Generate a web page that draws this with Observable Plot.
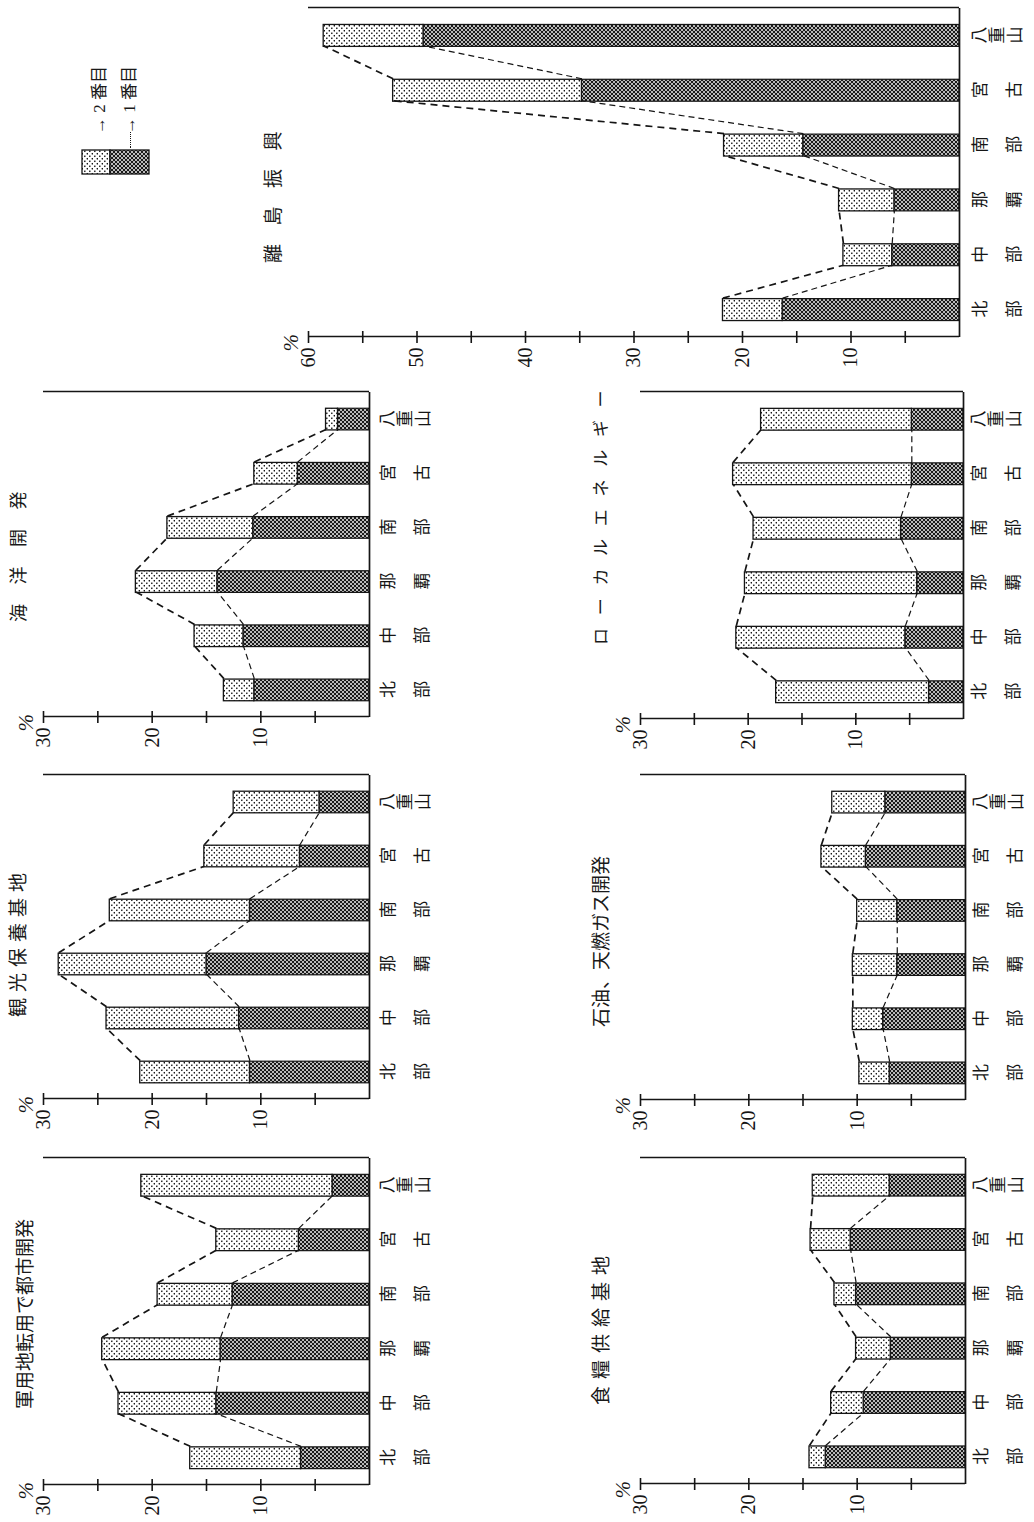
<!DOCTYPE html>
<html><head><meta charset="utf-8">
<script src="https://cdn.jsdelivr.net/npm/d3@7"></script>
<script src="https://cdn.jsdelivr.net/npm/@observablehq/plot@0.6"></script>
<style>
html,body{margin:0;padding:0;background:#fff;overflow:hidden;width:1034px;height:1522px;}
#page{position:absolute;left:0;top:0;width:1522px;height:1034px;transform-origin:0 0;transform:translateY(1522px) rotate(-90deg);font-family:"Noto Sans CJK JP",sans-serif;color:#1a1a1a;background:#fff;}
.title{position:absolute;white-space:nowrap;font-size:19px;line-height:24px;}
.leg{position:absolute;white-space:nowrap;font-size:17px;line-height:20px;font-family:"Liberation Serif","Noto Sans CJK JP",serif;}
</style></head><body>
<svg width="0" height="0" style="position:absolute">
<defs>
<pattern id="pat2" width="5" height="5" patternUnits="userSpaceOnUse"><rect width="5" height="5" fill="#fff"/><circle cx="1.25" cy="1.25" r="0.85" fill="#111"/><circle cx="3.75" cy="3.75" r="0.85" fill="#111"/></pattern>
<pattern id="pat1" width="4" height="4" patternUnits="userSpaceOnUse"><rect width="4" height="4" fill="#1a1a1a"/><circle cx="1" cy="1" r="0.95" fill="#fff"/><circle cx="3" cy="3" r="0.95" fill="#fff"/></pattern>
</defs></svg>
<div id="page"></div>
<script>
// ---- data ----
const categories = ["北部", "中部", "那覇", "南部", "宮古", "八重山"];
const categoryLabels = ["北\n部", "中\n部", "那\n覇", "南\n部", "宮\n古", "八\n重\n山"];
const titles = ["軍用地転用で都市開発", "観光保養基地", "海洋開発", "食糧供給基地", "石油、天燃ガス開発", "ローカルエネルギー", "離島振興"];
const ticks30 = [10, 20, 30];
const ticks60 = [10, 20, 30, 40, 50, 60];
const legendLabels = ["2 番目", "1 番目"];

// 1番目 (first choice) and 2番目 (second choice), percent
const gunyochiFirst  = [6.3, 14.1, 13.7, 12.6, 6.5, 3.4];
const gunyochiSecond = [10.2, 9.0, 10.9, 6.9, 7.6, 17.6];
const kankoFirst     = [11.0, 12.0, 15.0, 11.0, 6.4, 4.6];
const kankoSecond    = [10.1, 12.2, 13.6, 12.9, 8.8, 7.9];
const kaiyoFirst     = [10.6, 11.6, 14.0, 10.7, 6.6, 2.9];
const kaiyoSecond    = [2.8, 4.5, 7.5, 7.9, 4.0, 1.1];
const shokuryoFirst  = [12.9, 9.4, 6.9, 10.1, 10.6, 7.0];
const shokuryoSecond = [1.5, 3.0, 3.2, 2.0, 3.7, 7.1];
const sekiyuFirst    = [7.0, 7.6, 6.3, 6.3, 9.2, 7.4];
const sekiyuSecond   = [2.8, 2.8, 4.1, 3.7, 4.1, 4.9];
const localFirst     = [3.2, 5.4, 4.3, 5.8, 4.8, 4.8];
const localSecond    = [14.2, 15.7, 16.0, 13.7, 16.6, 14.0];
const ritouFirst     = [16.3, 6.2, 6.0, 14.4, 34.8, 49.4];
const ritouSecond    = [5.5, 4.5, 5.1, 7.3, 17.4, 9.2];

// ---- layout (in the unrotated page frame, 1522 x 1034) ----
const panels = [
  {first: gunyochiFirst, second: gunyochiSecond, max: 30, ticks: ticks30, left: 37, right: 364, top: 43, bottom: 369, labDy: 0,
   title: {x: 113, y: 24, size: 19, ls: 0}},
  {first: kankoFirst, second: kankoSecond, max: 30, ticks: ticks30, left: 423, right: 747, top: 43, bottom: 369, labDy: 0,
   title: {x: 505, y: 17, size: 19, ls: 6}},
  {first: kaiyoFirst, second: kaiyoSecond, max: 30, ticks: ticks30, left: 805, right: 1130, top: 43, bottom: 369, labDy: 0,
   title: {x: 900, y: 17, size: 18, ls: 19.5}},
  {first: shokuryoFirst, second: shokuryoSecond, max: 30, ticks: ticks30, left: 38, right: 364, top: 640, bottom: 965, labDy: -3,
   title: {x: 117, y: 600, size: 19, ls: 7}},
  {first: sekiyuFirst, second: sekiyuSecond, max: 30, ticks: ticks30, left: 422, right: 747, top: 640, bottom: 965, labDy: -3,
   title: {x: 495, y: 600, size: 19, ls: 0}},
  {first: localFirst, second: localSecond, max: 30, ticks: ticks30, left: 803, right: 1130, top: 640, bottom: 963, labDy: -3,
   title: {x: 877, y: 600, size: 17, ls: 12.7}},
  {first: ritouFirst, second: ritouSecond, max: 60, ticks: ticks60, left: 1185, right: 1514, top: 308, bottom: 959, labDy: 2,
   title: {x: 1259, y: 272, size: 19, ls: 18.5}}
];

const page = document.getElementById("page");
const ink = "#151515";
const serif = '"Liberation Serif","Noto Sans CJK JP",serif';
const jp = '"Noto Sans CJK JP",sans-serif';

panels.forEach((p, k) => {
  const ml = 50, mr = 12, mt = 35, mb = 75;
  const n = categories.length;
  const rows = categories.map((c, i) => ({
    i, c, label: categoryLabels[i], first: p.first[i], total: +(p.first[i] + p.second[i]).toFixed(1)
  }));
  const pairs = d3.pairs(rows).map(([a, b]) => ({i: a.i, j: b.i, fa: a.first, fb: b.first, ta: a.total, tb: b.total}));
  const hw = 0.2;
  const xmin = -0.5, xmax = n - 0.5;
  const minor = d3.range(5, p.max + 0.1, 5);
  const two = rows.filter(d => d.label.split("\n").length === 2);
  const three = rows.filter(d => d.label.split("\n").length === 3);
  const svg = Plot.plot({
    width: ml + mr + (p.right - p.left),
    height: mt + mb + (p.bottom - p.top),
    marginLeft: ml, marginRight: mr, marginTop: mt, marginBottom: mb,
    x: {type: "linear", domain: [xmin, xmax], axis: null},
    y: {domain: [0, p.max], axis: null},
    style: {fontFamily: serif, fontSize: "17px", color: ink, background: "transparent", maxWidth: "none", overflow: "visible"},
    marks: [
      Plot.rectY(rows, {x1: d => d.i - hw, x2: d => d.i + hw, y1: 0, y2: "first", fill: "url(#pat1)", stroke: ink, strokeWidth: 1.2}),
      Plot.rectY(rows, {x1: d => d.i - hw, x2: d => d.i + hw, y1: "first", y2: "total", fill: "url(#pat2)", stroke: ink, strokeWidth: 1.3}),
      Plot.link(pairs, {x1: d => d.i + hw, x2: d => d.j - hw, y1: "ta", y2: "tb", stroke: ink, strokeWidth: 1.7, strokeDasharray: "7,5"}),
      Plot.link(pairs, {x1: d => d.i + hw, x2: d => d.j - hw, y1: "fa", y2: "fb", stroke: ink, strokeWidth: 1.2, strokeDasharray: "6,4"}),
      Plot.ruleY([0], {stroke: ink, strokeWidth: 1.7}),
      Plot.ruleX([xmin, xmax], {y1: 0, y2: p.max, stroke: ink, strokeWidth: 1.6}),
      Plot.ruleY(minor, {x1: xmin, x2: xmin, insetLeft: -6, insetRight: -6, stroke: ink, strokeWidth: 1.6}),
      Plot.text(p.ticks, {y: d => d, text: d => String(d), frameAnchor: "left", textAnchor: "end", dx: -11, fill: ink, fontSize: 20}),
      Plot.text(["%"], {frameAnchor: "top-left", dx: -15, dy: -25, fill: ink, fontSize: 21, fontStyle: "italic"}),
      Plot.text(two, {x: "i", text: "label", frameAnchor: "bottom", lineAnchor: "top", dy: p.labDy, lineHeight: 2, fontSize: 17, fontFamily: jp, fill: ink}),
      Plot.text(three, {x: "i", text: "label", frameAnchor: "bottom", lineAnchor: "top", dy: p.labDy + 10, lineHeight: 1.08, fontSize: 17, fontFamily: jp, fill: ink})
    ]
  });
  svg.style.position = "absolute";
  svg.style.left = (p.left - ml) + "px";
  svg.style.top = (p.top - mt) + "px";
  page.appendChild(svg);
});

// titles
panels.forEach((p, k) => {
  const t = document.createElement("div");
  t.className = "title";
  t.textContent = titles[k];
  t.style.left = p.title.x + "px";
  t.style.top = (p.title.y - 12) + "px";
  t.style.fontSize = p.title.size + "px";
  t.style.letterSpacing = p.title.ls + "px";
  page.appendChild(t);
});

// legend
const leg = document.createElementNS("http://www.w3.org/2000/svg", "svg");
leg.setAttribute("width", 26); leg.setAttribute("height", 69);
leg.style.position = "absolute"; leg.style.left = "1347px"; leg.style.top = "81px";
leg.innerHTML = '<rect x="1" y="1" width="24" height="28" fill="url(#pat2)" stroke="#151515" stroke-width="1.3"/>' +
  '<rect x="1" y="29" width="24" height="39" fill="url(#pat1)" stroke="#151515" stroke-width="1.3"/>';
page.appendChild(leg);
const dots = document.createElement("div");
dots.style.cssText = "position:absolute;left:1374px;top:130px;width:16px;border-top:1.5px dotted #151515;";
page.appendChild(dots);
[[100, legendLabels[0]], [130, legendLabels[1]]].forEach(([y, txt]) => {
  const d = document.createElement("div");
  d.className = "leg";
  d.textContent = "→ " + txt;
  d.style.left = "1388px";
  d.style.top = (y - 10) + "px";
  page.appendChild(d);
});
</script>
</body></html>
